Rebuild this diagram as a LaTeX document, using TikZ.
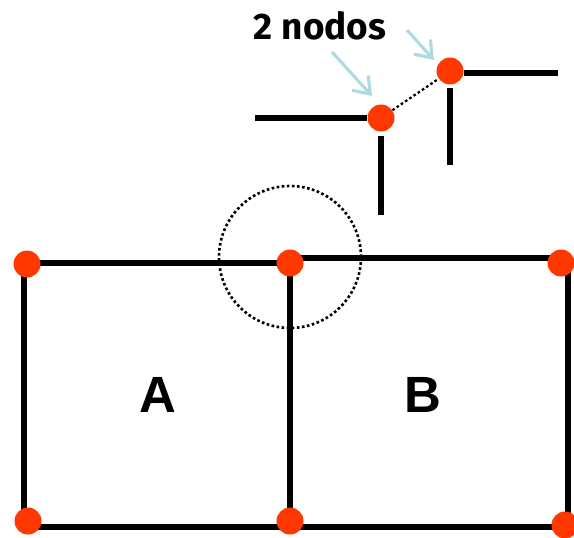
\documentclass[tikz,border=0pt]{standalone}
\usepackage{fontspec}
\usepackage{tikz}
\usetikzlibrary{arrows.meta}
\setmainfont{Liberation Sans}
\newfontfamily\notefont{Fira Sans}

\definecolor{nodered}{RGB}{255,56,0}
\definecolor{pointer}{RGB}{172,220,224}

\tikzset{
  dot/.style={circle, fill=nodered, inner sep=0pt, minimum size=0.54cm},
  edgeline/.style={line width=2.9pt},
  dotline/.style={line width=1.5pt, dash pattern=on 1.5pt off 1.4pt},
  pointarrow/.style={draw=pointer, line width=1.8pt, -{Straight Barb[length=3mm,width=4.4mm]}},
}

\begin{document}
\begin{tikzpicture}[x=0.02cm, y=-0.02cm]
\useasboundingbox (0,0) rectangle (574,537);

% the two elements
\draw[edgeline] (24,263) rectangle (290,527);
\draw[edgeline] (290,258) -- (568,258) -- (568,527) -- (290,527);
\node[font=\bfseries\fontsize{29}{29}\selectfont] (elA) at (158,395) {A};
\node[font=\bfseries\fontsize{29}{29}\selectfont] (elB) at (423,395) {B};

% corner nodes
\foreach \n/\p in {a1/{27,264}, a2/{290,263}, a3/{28,521}, a4/{290,521},
                   b2/{561,263}, b3/{565,525}}
  \node[dot] (\n) at (\p) {};

% zoom circle around the shared corner
\draw[dotline] (a2) ++(0,-6) circle (1.42cm);

% detail: the corner split into two nodes
\node[dot] (ld) at (381,118) {};
\node[dot] (rd) at (450,71) {};
\coordinate (lw) at (255,118);
\coordinate (ls) at (381,215);
\coordinate (re) at (558,73);
\coordinate (rs) at (450,165);
\draw[edgeline] (lw) -- (ld.west);
\draw[edgeline] ([yshift=-0.8mm]ld.south) -- (ls);
\draw[edgeline] (rd.east) ++(0,2) -- (re);
\draw[edgeline] ([yshift=-0.7mm]rd.south) -- (rs);
\draw[dotline, line width=1.3pt] (ld) -- (rd);

% label
\node[font=\notefont\bfseries\fontsize{21}{21}\selectfont] (note) at (320,26) {2 nodos};
\coordinate (p1) at (332,52);
\coordinate (p2) at (407,30);
\coordinate (t1) at (372,96);
\coordinate (t2) at (434,60);
\draw[pointarrow] (p1) -- (t1);
\draw[pointarrow] (p2) -- (t2);
\end{tikzpicture}
\end{document}
